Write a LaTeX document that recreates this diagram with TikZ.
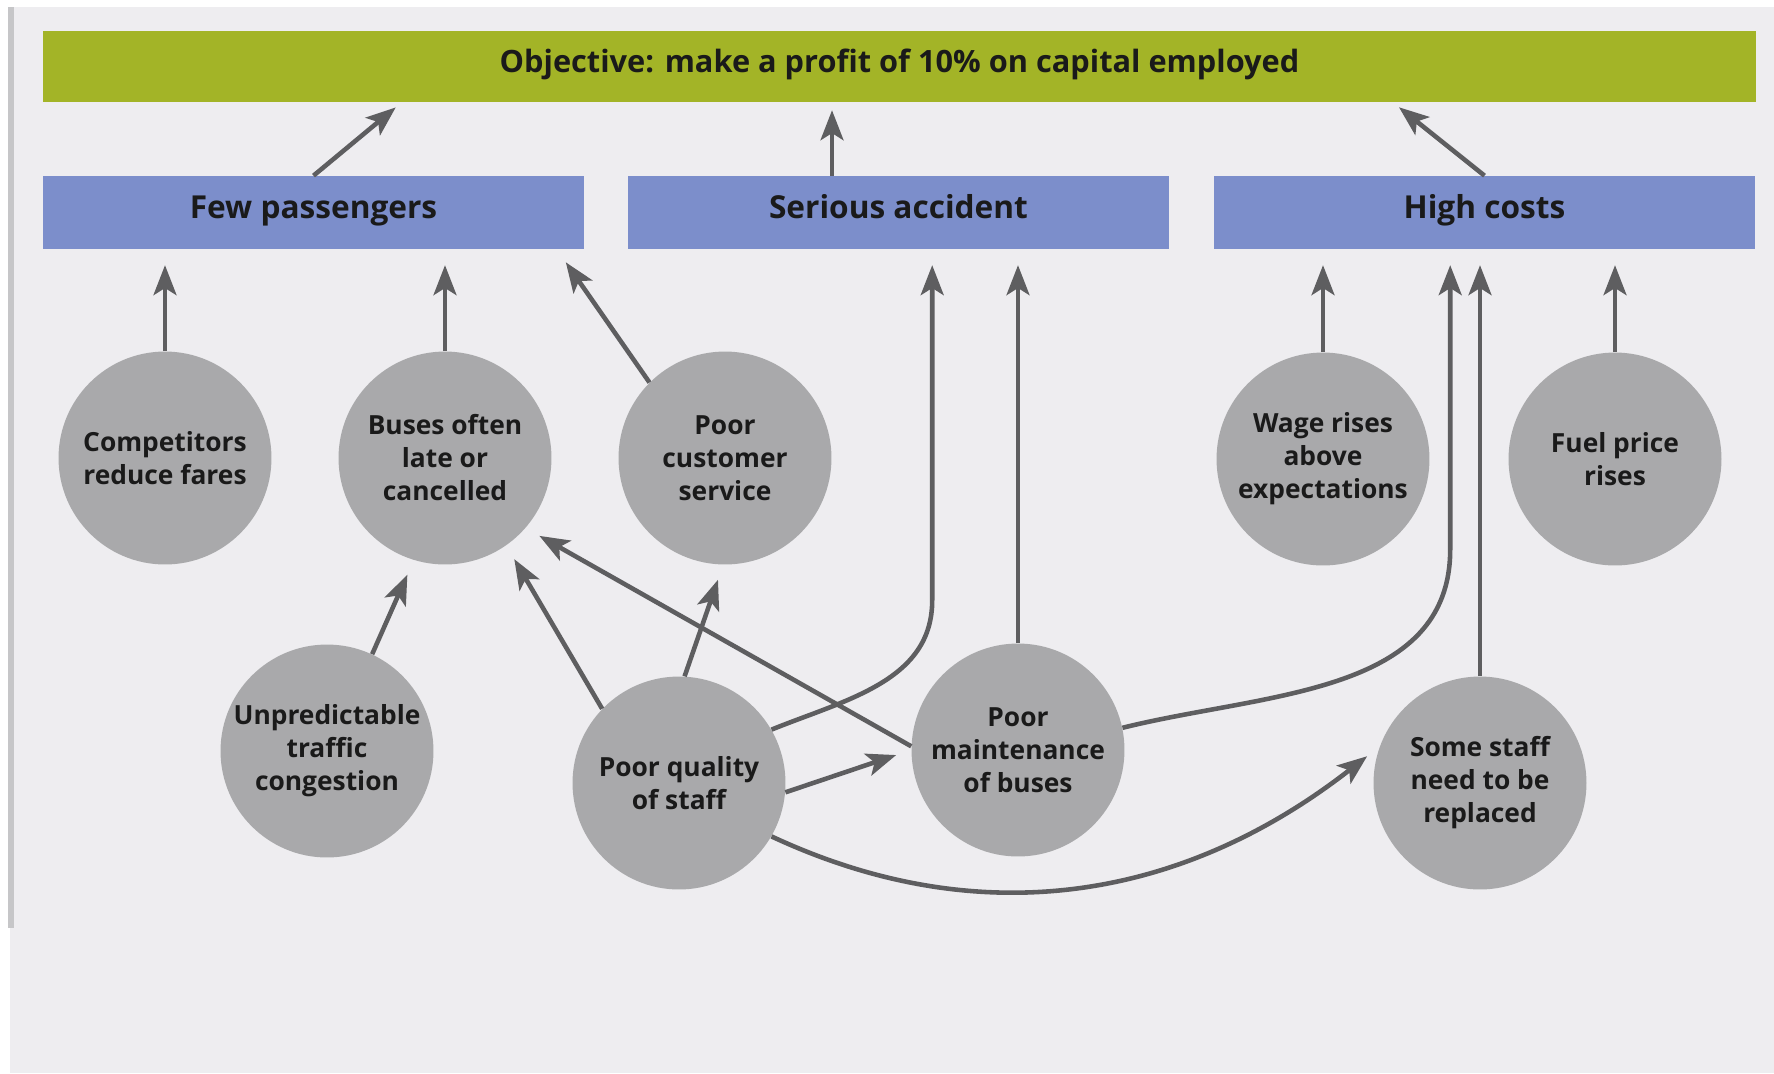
\documentclass[tikz,border=0pt]{standalone}
\usepackage{fontspec}
\setmainfont{Open Sans}
\usetikzlibrary{arrows.meta,calc}
\definecolor{objgreen}{HTML}{A3B427}
\definecolor{boxblue}{HTML}{7C8ECB}
\definecolor{causegrey}{HTML}{A9A9AB}
\definecolor{arrowgrey}{HTML}{5E5E60}
\definecolor{pagebg}{HTML}{EEEDF0}
\definecolor{edgegrey}{HTML}{C6C6C8}
\definecolor{darktext}{HTML}{1A1A1A}

\tikzset{
  objbar/.style={fill=objgreen, text=darktext, minimum width=34.26cm, minimum height=1.42cm, inner sep=0pt, text height=0.72em, text depth=0em, font=\fontsize{17.5}{21}\selectfont\bfseries},
  riskbox/.style={fill=boxblue, text=darktext, minimum width=10.84cm, minimum height=1.46cm, inner sep=0pt, text height=0.72em, text depth=0em, font=\fontsize{18}{22}\selectfont\bfseries},
  cause/.style={circle, fill=causegrey, text=darktext, minimum size=4.26cm, inner sep=0pt, align=center, font=\fontsize{15}{18.8}\selectfont\bfseries},
  arr/.style={draw=arrowgrey, line width=2.6pt, -{Stealth[length=17pt,width=13pt,inset=4pt]}, shorten >=9pt},
}

\begin{document}
\begin{tikzpicture}[x=0.02cm, y=-0.02cm]
\useasboundingbox (0,0) rectangle (1774,1073);
% Page
\fill[white] (0,0) rectangle (1774,1073);
\fill[pagebg] (10,7) rectangle (1774,1073);
\draw[edgegrey, line width=3pt] (11,7) -- (11,928);

% Objective
\node[objbar] (obj) at (899.5,66.5) {Objective: make a profit of 10\% on capital employed};

% Risks
\node[riskbox] (few) at (313.5,212.5) {Few passengers};
\node[riskbox] (acc) at (898.5,212.5) {Serious accident};
\node[riskbox] (high) at (1484.5,212.5) {High costs};

% Causes, top row
\node[cause] (comp) at (165,458) {Competitors\\reduce fares};
\node[cause] (bus) at (445,458) {Buses often\\late or\\cancelled};
\node[cause] (cust) at (725,458) {Poor\\customer\\service};
\node[cause] (wage) at (1323,459) {Wage rises\\above\\expectations};
\node[cause] (fuel) at (1615,459) {Fuel price\\rises};

% Causes, bottom row
\node[cause] (unp) at (327,751) {Unpredictable\\traffic\\congestion};
\node[cause] (qual) at (679,783) {Poor quality\\of staff};
\node[cause] (maint) at (1018,750) {Poor\\maintenance\\of buses};
\node[cause] (repl) at (1480,783) {Some staff\\need to be\\replaced};

% Risks to objective
\draw[arr, shorten >=4.5pt] (few.north) -- ($(obj.south west)+(359,0)$);
\draw[arr, shorten >=4.5pt] ([xshift=-1.33cm]acc.north) -- ([xshift=-1.33cm]acc.north |- obj.south);
\draw[arr, shorten >=4.5pt] (high.north) -- ($(obj.south west)+(1350,0)$);

% Causes to risks
\draw[arr] (comp.north) -- (comp.north |- few.south);
\draw[arr] (bus.north) -- (bus.north |- few.south);
\draw[arr] (cust.135) -- ($(few.south east)+(-28,0)$);
\draw[arr] (qual.30) to[out=22,in=-90] ($(acc.south west)+(305,351)$) -- ($(acc.south west)+(305,0)$);
\draw[arr] (maint.north) -- (maint.north |- acc.south);
\draw[arr] (wage.north) -- (wage.north |- high.south);
\draw[arr] (maint.12) to[out=14,in=-90] ($(high.south west)+(237,300)$) -- ($(high.south west)+(237,0)$);
\draw[arr] (repl.north) -- (repl.north |- high.south);
\draw[arr] (fuel.north) -- (fuel.north |- high.south);

% Causes to causes
\draw[arr] (unp.65) -- (bus.-107);
\draw[arr] (qual.136) -- (bus.-55);
\draw[arr] (qual.87) -- (cust.-91);
\draw[arr] (maint.178) -- (bus.-41);
\draw[arr] (qual.-5) -- (maint.west);
\draw[arr] (qual.-30) to[out=-25,in=218] (repl.160);
\end{tikzpicture}
\end{document}
